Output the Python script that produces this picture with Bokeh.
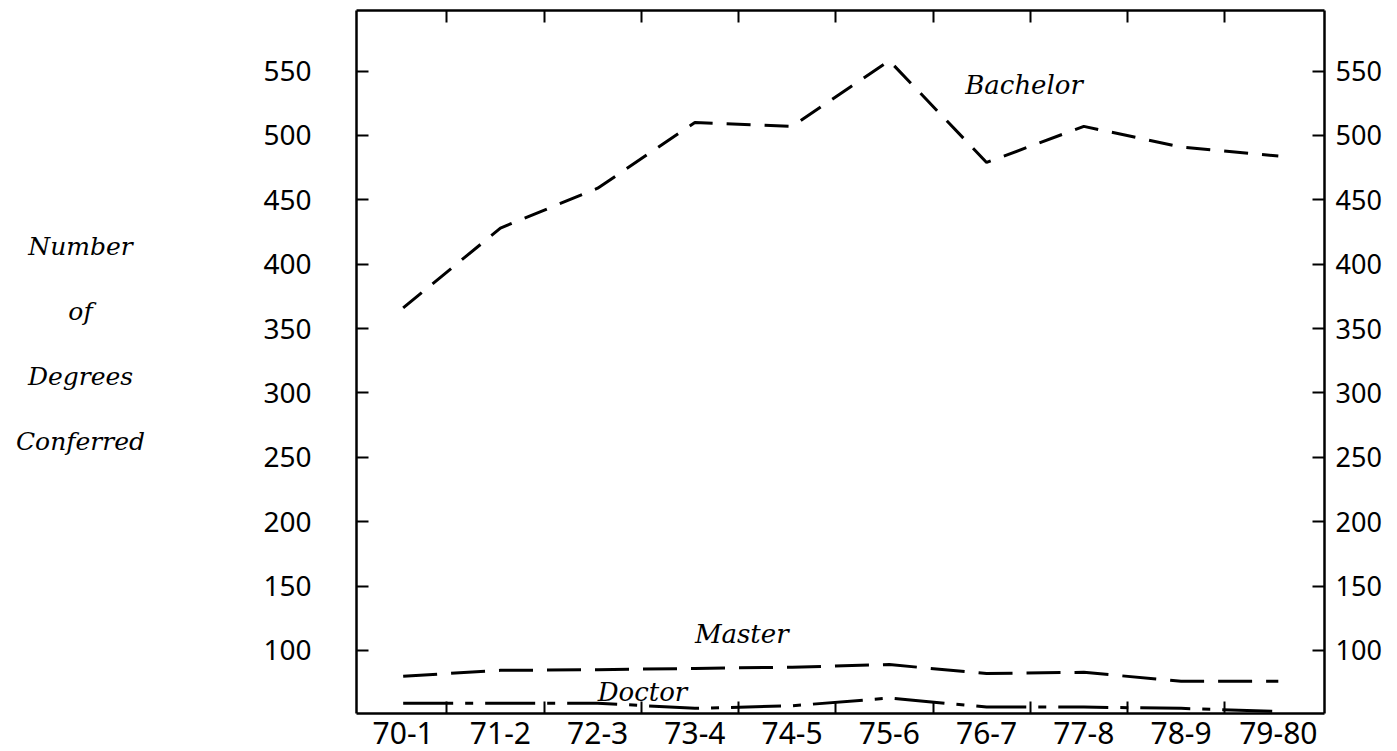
from bokeh.plotting import figure
from bokeh.models import Range1d, LinearAxis, FixedTicker, Label
from bokeh.layouts import row
from bokeh.core.properties import value
from bokeh.embed import file_html
from bokeh.resources import INLINE

# ---- data ----
years = ["70-1", "71-2", "72-3", "73-4", "74-5", "75-6", "76-7", "77-8", "78-9", "79-80"]
bachelor = [366, 428, 459, 510, 507, 558, 479, 507, 491, 484]
master = [80, 84.5, 85, 86, 87, 89, 82, 83, 76, 76]
doctor = [59, 59, 59, 55, 57, 63, 56, 56, 55, 52.5]
y_ticks = [100, 150, 200, 250, 300, 350, 400, 450, 500, 550]
title_lines = ["Number", "of", "Degrees", "Conferred"]

xs = list(range(len(years)))

H = 751
LEFT_W = 200                      # width of the panel holding the y title
W = 1395 - LEFT_W
FL, FR, FT, FB = 356, 1324, 10, 713   # frame edges in page pixels
serif = "DejaVu Serif"

# ---- left panel: multi-line y-axis title (its frame is aligned with the chart frame) ----
t = figure(width=LEFT_W, height=H, x_range=Range1d(0, LEFT_W), y_range=Range1d(FB, FT),
           output_backend="svg", toolbar_location=None,
           x_axis_location=None, y_axis_location=None,
           min_border=0, min_border_left=0, min_border_right=0,
           min_border_top=FT, min_border_bottom=H - FB)
t.grid.visible = False
t.outline_line_color = None
t.border_fill_color = "white"
t.background_fill_color = "white"
title_y = [246, 311, 376, 441]
t.text(x=[80] * len(title_lines), y=title_y, text=title_lines,
       text_font=value(serif), text_font_style="italic", text_font_size="25px",
       text_align="center", text_baseline="middle", text_color="black")

# ---- main chart ----
p = figure(width=W, height=H,
           x_range=Range1d(-0.48, 9.475), y_range=Range1d(51, 597),
           output_backend="svg", toolbar_location=None,
           x_axis_location=None, y_axis_location=None,
           min_border_left=FL - LEFT_W, min_border_right=LEFT_W + W - FR,
           min_border_top=FT, min_border_bottom=H - FB)
p.grid.visible = False
p.outline_line_color = None
p.background_fill_color = "white"
p.border_fill_color = "white"

LW = 2.5
xt = FixedTicker(ticks=xs, minor_ticks=[i + 0.45 for i in range(len(xs) - 1)])

def style_axis(ax):
    ax.axis_line_width = LW
    ax.axis_line_color = "black"
    ax.major_tick_line_color = "black"
    ax.major_tick_line_width = 2
    ax.minor_tick_line_color = "black"
    ax.minor_tick_line_width = 2

bx = LinearAxis(ticker=xt, major_label_overrides={i: years[i] for i in xs})
style_axis(bx)
bx.major_tick_in = 0
bx.major_tick_out = 0
bx.minor_tick_in = 12
bx.minor_tick_out = 0
bx.major_label_text_font = "Noto Sans"
bx.major_label_text_font_size = "30px"
bx.major_label_text_color = "black"
bx.major_label_standoff = 8
p.add_layout(bx, "below")

tx = LinearAxis(ticker=xt, major_label_overrides={i: "" for i in xs})
style_axis(tx)
tx.major_tick_in = 0
tx.major_tick_out = 0
tx.minor_tick_in = 12
tx.minor_tick_out = 0
tx.major_label_text_font_size = "0px"
tx.major_label_standoff = 0
p.add_layout(tx, "above")

yt = FixedTicker(ticks=y_ticks, minor_ticks=[])
ly = LinearAxis(ticker=yt)
style_axis(ly)
ly.major_tick_in = 12
ly.major_tick_out = 0
ly.minor_tick_in = 0
ly.minor_tick_out = 0
ly.major_label_text_font = "Noto Sans"
ly.major_label_text_font_size = "28px"
ly.major_label_text_color = "black"
ly.major_label_standoff = 45
p.add_layout(ly, "left")

ry = LinearAxis(ticker=yt)
style_axis(ry)
ry.major_tick_in = 12
ry.major_tick_out = 0
ry.minor_tick_in = 0
ry.minor_tick_out = 0
ry.major_label_text_font = "Noto Sans"
ry.major_label_text_font_size = "27px"
ry.major_label_text_color = "black"
ry.major_label_standoff = 11
p.add_layout(ry, "right")

p.line(xs, bachelor, line_color="black", line_width=3, line_dash="24 14")
p.line(xs, master, line_color="black", line_width=3, line_dash="34 14")
p.line(xs, doctor, line_color="black", line_width=3, line_dash="50 12 8 12")

for txt, lx, lyv in [("Bachelor", 5.78, 539), ("Master", 3.0, 113), ("Doctor", 2.0, 68)]:
    p.add_layout(Label(x=lx, y=lyv, text=txt, text_font=serif, text_font_style="italic",
                       text_font_size="26px", text_align="left", text_baseline="middle",
                       text_color="black"))

layout = row(t, p, spacing=0)
open("out.html", "w").write(file_html(layout, INLINE))
